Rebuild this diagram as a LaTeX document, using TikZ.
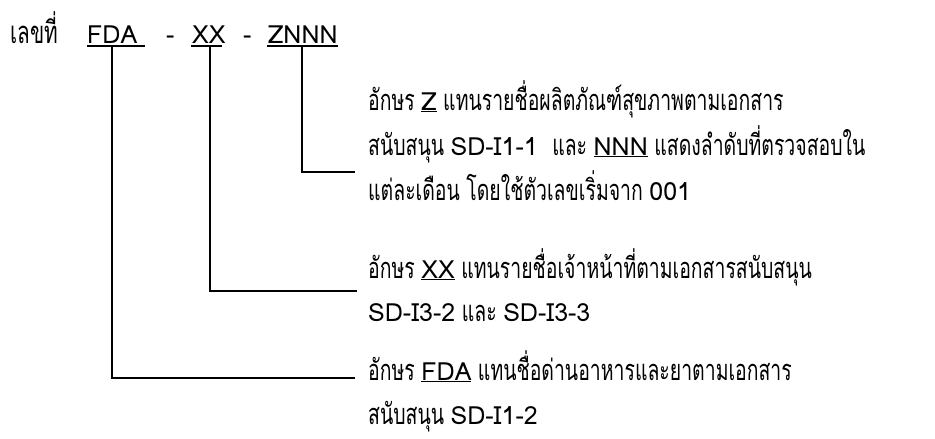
\documentclass[tikz,border=0pt]{standalone}
\usepackage{fontspec}
\setmainfont[Script=Thai,FakeStretch=0.67]{Loma}
\newfontfamily\latf{Loma}
\newcommand{\lt}[1]{{\latf\fontsize{25}{30}\selectfont #1}}
\newcommand{\ulx}[1]{\underline{\lt{#1}}}
\begin{document}
\begin{tikzpicture}[x=1pt,y=-1pt,
  txt/.style={anchor=base west, inner sep=0pt, font=\fontsize{29}{34}\selectfont},
  ttl/.style={anchor=base west, inner sep=0pt, font=\fontsize{31}{34}\selectfont},
  ln/.style={line width=1.4pt},
  ul/.style={line width=1.8pt}]
\useasboundingbox (0,0) rectangle (935,439);
% title
\node[ttl] (lek) at (10,43) {เลขที่};
\node[ttl] (fda) at (87,43) {\lt{FDA}};
\node[ttl] (d1) at (166,43) {\lt{-}};
\node[ttl] (xx) at (192,43) {\lt{XX}};
\node[ttl] (d2) at (243,43) {\lt{-}};
\node[ttl] (zn) at (268,43) {\lt{ZNNN}};
\draw[ul] (87,46) -- (145,46);
\draw[ul] (191,46) -- (222,46);
\draw[ul] (267,46) -- (338,46);
\coordinate (fdatop) at (112,46);
\coordinate (xxtop) at (210,46);
\coordinate (zntop) at (302,46);
% Z block
\node[txt] (z1) at (368,110) {อักษร \ulx{Z} แทนรายชื่อผลิตภัณฑ์สุขภาพตามเอกสาร};
\node[txt] (z2) at (368,155) {สนับสนุน \lt{SD-I1-1}\enspace และ \ulx{NNN} แสดงลำดับที่ตรวจสอบใน};
\node[txt] (z3) at (368,200) {แต่ละเดือน โดยใช้ตัวเลขเริ่มจาก \lt{001}};
% XX block
\node[txt] (x1) at (368,278) {อักษร \ulx{XX} แทนรายชื่อเจ้าหน้าที่ตามเอกสารสนับสนุน};
\node[txt] (x2) at (368,321) {\lt{SD-I3-2} และ \lt{SD-I3-3}};
% FDA block
\node[txt] (f1) at (368,380) {อักษร \ulx{FDA} แทนชื่อด่านอาหารและยาตามเอกสาร};
\node[txt] (f2) at (368,424) {สนับสนุน \lt{SD-I1-2}};
% connectors
\coordinate (zend) at (355,172);
\coordinate (xend) at (357,291);
\coordinate (fend) at (355,378);
\draw[ln] (zntop) |- (zend);
\draw[ln] (xxtop) |- (xend);
\draw[ln] (fdatop) |- (fend);
\end{tikzpicture}
\end{document}
